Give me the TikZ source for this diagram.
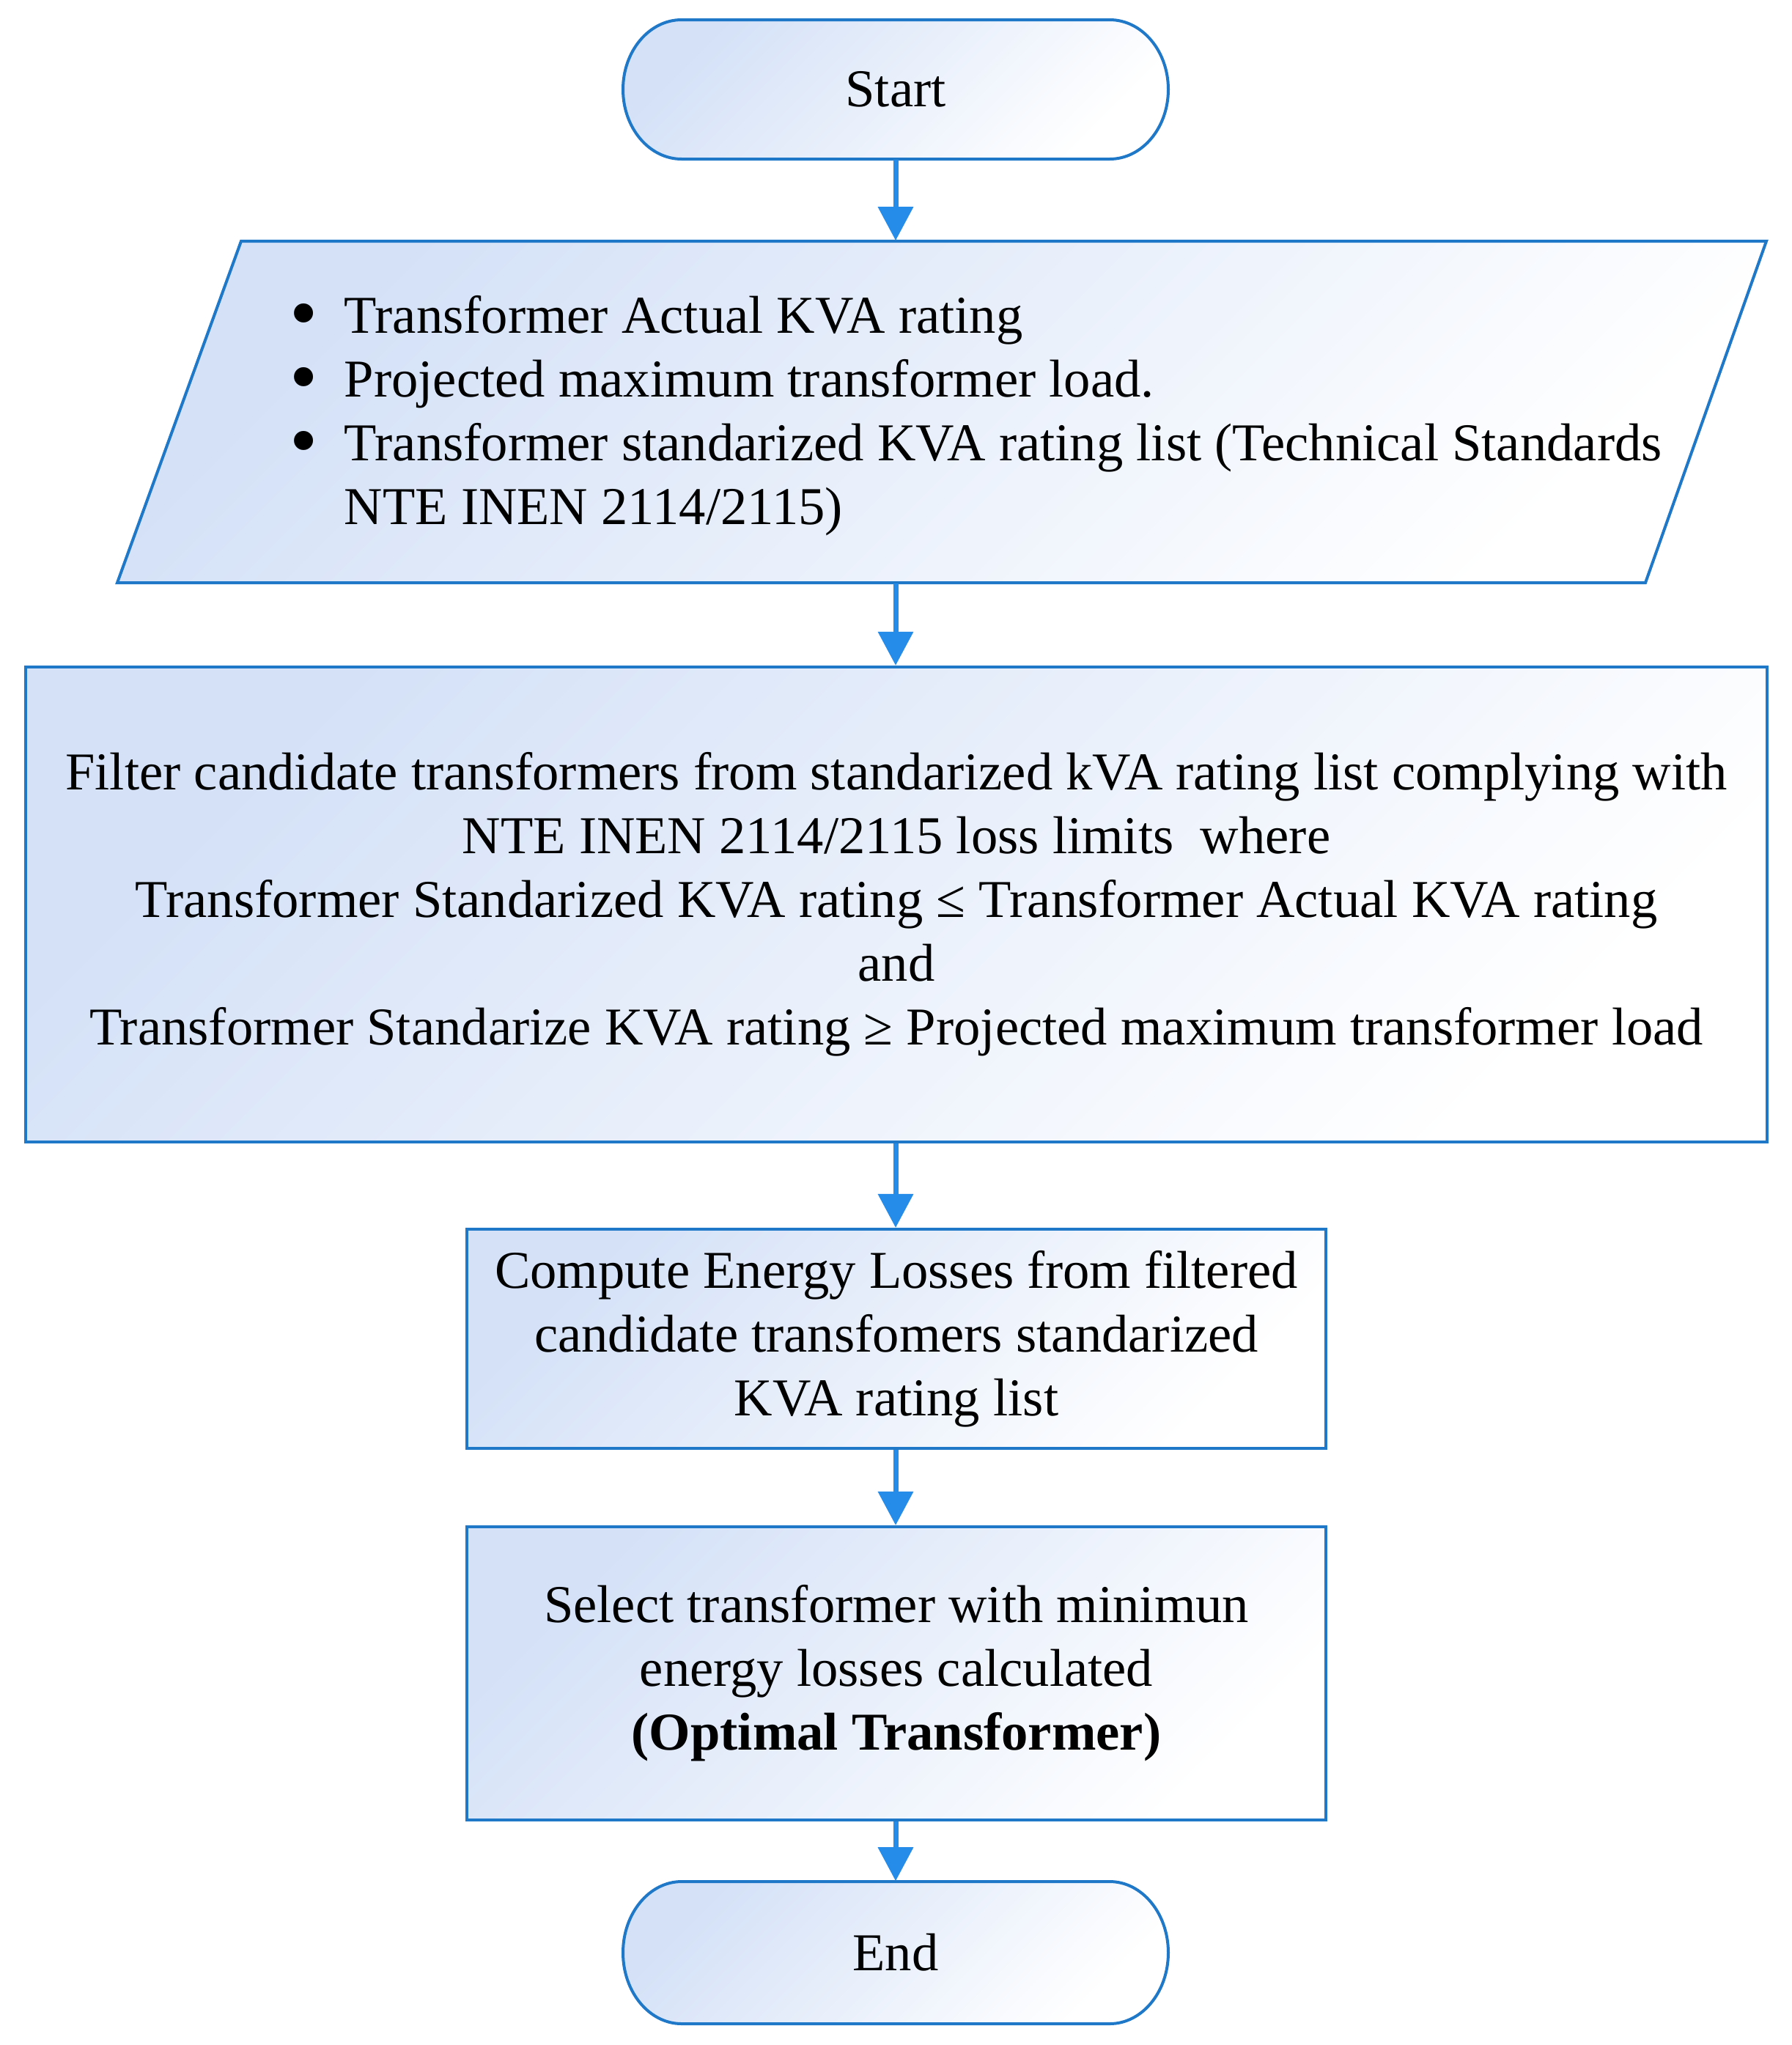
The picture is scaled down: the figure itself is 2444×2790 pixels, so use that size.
\documentclass[tikz,border=0pt]{standalone}
\usepackage{fontspec}
\usepackage{graphicx}
\setmainfont{Liberation Serif}
\usetikzlibrary{arrows.meta}
\definecolor{bord}{RGB}{31,120,200}
\definecolor{arr}{RGB}{38,140,234}
\definecolor{fillb}{RGB}{212,225,247}
\newcommand{\bigbul}{\makebox[0.74cm][l]{\smash{\raisebox{-0.12em}{\scalebox{1.5}{\textbullet}}}}}
\tikzset{
  shapefill/.style={draw=bord, line width=0.04cm, top color=fillb, bottom color=white, shading angle=45},
  txt/.style={font=\fontsize{20.65}{24.75}\selectfont, inner sep=0pt},
  boxnode/.style={shapefill, txt, align=center},
  conn/.style={draw=arr, line width=0.07cm, -{Triangle[width=0.47cm,length=0.46cm]}},
}
\begin{document}
\begin{tikzpicture}[x=0.01cm, y=-0.01cm]
\useasboundingbox (0,0) rectangle (2444,2790);

% Start terminal
\path[shapefill] (930,27) -- (1514,27) arc[start angle=-90, end angle=90, x radius=80, y radius=95]
  -- (930,217) arc[start angle=90, end angle=270, x radius=80, y radius=95] -- cycle;
\node[txt, minimum width=7.44cm, minimum height=1.90cm] (start) at (1222,122) {Start};

% Input parallelogram
\path[shapefill] (329,329) -- (2410,329) -- (2245,795) -- (160,795) -- cycle;
\node[txt, minimum width=19.2cm, minimum height=4.66cm] (inp) at (1286,562) {};
\node[txt, anchor=west, align=left] (inptext) at (395,567) {%
  \bigbul Transformer Actual KVA rating\\
  \bigbul Projected maximum transformer load.\\
  \bigbul Transformer standarized KVA rating list (Technical Standards\\
  \makebox[0.74cm][l]{}NTE INEN 2114/2115)};

% Filter box
\node[boxnode, minimum width=23.74cm, minimum height=6.48cm] (filt) at (1223,1234) {%
  Filter candidate transformers from standarized kVA rating list complying with\\
  NTE INEN 2114/2115 loss limits \ where\\
  Transformer Standarized KVA rating ≤ Transformer Actual KVA rating\\
  and\\
  Transformer Standarize KVA rating ≥ Projected maximum transformer load};

% Compute box
\node[boxnode, minimum width=11.72cm, minimum height=2.99cm] (comp) at (1223,1826.5) {%
  Compute Energy Losses from filtered\\
  candidate transfomers standarized\\
  KVA rating list};

% Select box
\node[boxnode, minimum width=11.72cm, minimum height=4.00cm] (sel) at (1223,2283) {%
  Select transformer with minimun\\
  energy losses calculated\\
  \textbf{(Optimal Transformer)}};

% End terminal
\path[shapefill] (930,2567) -- (1514,2567) arc[start angle=-90, end angle=90, x radius=80, y radius=97]
  -- (930,2761) arc[start angle=90, end angle=270, x radius=80, y radius=97] -- cycle;
\node[txt, minimum width=7.44cm, minimum height=1.94cm] (end) at (1222,2664) {End};

% Connectors
\draw[conn] (start.south) -- (start.south |- inp.north);
\draw[conn] (start.south |- inp.south) -- (start.south |- filt.north);
\draw[conn] (start.south |- filt.south) -- (start.south |- comp.north);
\draw[conn] (start.south |- comp.south) -- (start.south |- sel.north);
\draw[conn] (start.south |- sel.south) -- (end.north);
\end{tikzpicture}
\end{document}
